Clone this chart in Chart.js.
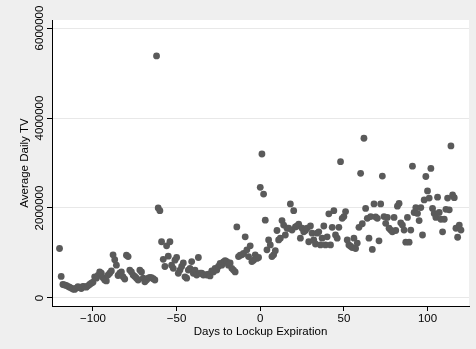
<!DOCTYPE html>
<html>
<head>
<meta charset="utf-8">
<title>Average Daily TV</title>
<script src="https://cdn.jsdelivr.net/npm/chart.js@4.4.1/dist/chart.umd.min.js"></script>
<style>
	html, body { margin: 0; padding: 0; background: #efefef; }
	#wrap { width: 476px; height: 349px; }
</style>
</head>
<body>
<div id="wrap"><canvas id="tvChart" width="476" height="349"></canvas></div>
<script>
// days relative to the lockup expiration date
var days = [
	-120, -119, -118, -117, -116, -115, -114, -113, -112, -111, -110, -109, -108, -107, -106, -105, -104, -103, -102, -101,
	-100, -99, -98, -97, -96, -95, -94, -93, -92, -91, -90, -89, -88, -87, -86, -85, -84, -83, -82, -81,
	-80, -79, -78, -77, -76, -75, -74, -73, -72, -71, -70, -69, -68, -67, -66, -65, -64, -63, -62, -61,
	-60, -59, -58, -57, -56, -55, -54, -53, -52, -51, -50, -49, -48, -47, -46, -45, -44, -43, -42, -41,
	-40, -39, -38, -37, -36, -35, -34, -33, -32, -31, -30, -29, -28, -27, -26, -25, -24, -23, -22, -21,
	-20, -19, -18, -17, -16, -15, -14, -13, -12, -11, -10, -9, -8, -7, -6, -5, -4, -3, -2, -1,
	0, 1, 2, 3, 4, 5, 6, 7, 8, 9, 10, 11, 12, 13, 14, 15, 16, 17, 18, 19,
	20, 21, 22, 23, 24, 25, 26, 27, 28, 29, 30, 31, 32, 33, 34, 35, 36, 37, 38, 39,
	40, 41, 42, 43, 44, 45, 46, 47, 48, 49, 50, 51, 52, 53, 54, 55, 56, 57, 58, 59,
	60, 61, 62, 63, 64, 65, 66, 67, 68, 69, 70, 71, 72, 73, 74, 75, 76, 77, 78, 79,
	80, 81, 82, 83, 84, 85, 86, 87, 88, 89, 90, 91, 92, 93, 94, 95, 96, 97, 98, 99,
	100, 101, 102, 103, 104, 105, 106, 107, 108, 109, 110, 111, 112, 113, 114, 115, 116, 117, 118, 119, 120
];

// average daily trading volume for each day
var avgTV = [
	1100000, 480000, 300000, 290000, 280000, 260000, 240000, 220000, 200000, 190000, 220000, 250000, 230000, 210000, 260000, 250000, 240000, 270000, 300000, 330000,
	350000, 470000, 440000, 500000, 580000, 550000, 450000, 400000, 380000, 510000, 550000, 600000, 960000, 850000, 730000, 500000, 550000, 580000, 470000, 420000,
	950000, 920000, 620000, 580000, 510000, 480000, 440000, 400000, 620000, 580000, 440000, 360000, 400000, 440000, 460000, 450000, 430000, 400000, 5380000, 2000000,
	1940000, 1250000, 860000, 700000, 1160000, 930000, 1250000, 730000, 660000, 840000, 900000, 550000, 620000, 700000, 780000, 470000, 440000, 620000, 660000, 810000,
	550000, 620000, 510000, 900000, 550000, 550000, 510000, 520000, 510000, 530000, 490000, 600000, 580000, 660000, 620000, 700000, 770000, 730000, 800000, 830000,
	810000, 730000, 780000, 660000, 620000, 580000, 1580000, 920000, 950000, 960000, 990000, 1360000, 1070000, 920000, 1160000, 810000, 840000, 960000, 880000, 900000,
	2460000, 3200000, 2310000, 1730000, 1070000, 1290000, 1180000, 920000, 960000, 1050000, 1500000, 1290000, 1330000, 1720000, 1620000, 1400000, 1550000, 1550000, 2090000, 1510000,
	1940000, 1580000, 1600000, 1640000, 1330000, 1550000, 1470000, 1500000, 1550000, 1250000, 1600000, 1440000, 1290000, 1200000, 1440000, 1470000, 1180000, 1330000, 1600000, 1180000,
	1360000, 1870000, 1180000, 1570000, 1940000, 1400000, 1330000, 1570000, 3030000, 1770000, 1810000, 1920000, 1290000, 1180000, 1150000, 1120000, 1330000, 1100000, 1220000, 1570000,
	2770000, 1650000, 3550000, 1990000, 1770000, 1330000, 1810000, 1080000, 2090000, 1800000, 1770000, 1270000, 2090000, 2710000, 1810000, 1660000, 1790000, 1550000, 1510000, 1470000,
	1790000, 1500000, 2040000, 2100000, 1670000, 1620000, 1510000, 1240000, 1790000, 1240000, 1510000, 2930000, 1900000, 2010000, 1880000, 1720000, 2010000, 1400000, 2180000, 2700000,
	2380000, 2220000, 2880000, 1990000, 1880000, 1790000, 2240000, 1900000, 1750000, 1470000, 1750000, 1970000, 2220000, 1960000, 3380000, 2290000, 2230000, 1550000, 1350000, 1620000, 1510000
];

var xTicks = [-100, -50, 0, 50, 100];
var yTicks = [0, 2000000, 4000000, 6000000];

var points = [];
for (var i = 0; i < days.length; i++) {
	points.push({x: days[i], y: avgTV[i]});
}

var labelFont = {family: "'Liberation Sans', Arial, sans-serif", size: 11.5};

// gray page, white plot region
var backgroundPlugin = {
	id: 'plotBackground',
	beforeDraw: function(chart) {
		var ctx = chart.ctx;
		var area = chart.chartArea;
		ctx.save();
		ctx.fillStyle = '#efefef';
		ctx.fillRect(0, 0, chart.width, chart.height);
		ctx.fillStyle = '#ffffff';
		ctx.fillRect(area.left, area.top, area.right - area.left, area.bottom - area.top);
		ctx.restore();
	}
};

var ctx = document.getElementById('tvChart').getContext('2d');
var tvChart = new Chart(ctx, {
	type: 'scatter',
	data: {
		datasets: [{
			label: 'Average Daily TV',
			data: points,
			backgroundColor: '#5a5a5a',
			borderWidth: 0,
			pointRadius: 3.4,
			pointHoverRadius: 3.4
		}]
	},
	options: {
		responsive: false,
		animation: false,
		devicePixelRatio: 1,
		layout: {
			padding: {top: 20, right: 7, bottom: 0, left: 0}
		},
		plugins: {
			legend: {display: false},
			tooltip: {enabled: false}
		},
		scales: {
			x: {
				type: 'linear',
				min: -124.5,
				max: 124.8,
				afterBuildTicks: function(scale) {
					scale.ticks = xTicks.map(function(v) { return {value: v}; });
				},
				afterFit: function(scale) {
					scale.height = 43;
				},
				border: {color: '#000', width: 1},
				grid: {drawOnChartArea: false, tickLength: 5, tickColor: '#000'},
				ticks: {
					color: '#000',
					font: labelFont,
					padding: 1,
					maxRotation: 0,
					autoSkip: false,
					callback: function(v) {
						return v < 0 ? '\u2212' + Math.abs(v) : '' + v;
					}
				},
				title: {
					display: true,
					text: 'Days to Lockup Expiration',
					color: '#000',
					font: labelFont,
					padding: {top: 0, bottom: 10}
				}
			},
			y: {
				type: 'linear',
				min: -178000,
				max: 6178000,
				afterBuildTicks: function(scale) {
					scale.ticks = yTicks.map(function(v) { return {value: v}; });
				},
				afterFit: function(scale) {
					scale.width = 52;
				},
				border: {color: '#000', width: 1},
				grid: {color: '#e8e8e8', lineWidth: 1, tickLength: 5, tickColor: '#000'},
				ticks: {
					color: '#000',
					font: labelFont,
					minRotation: 90,
					maxRotation: 90,
					crossAlign: 'center',
					padding: -15,
					autoSkip: false,
					callback: function(v) { return '' + v; }
				},
				title: {
					display: true,
					text: 'Average Daily TV',
					color: '#000',
					font: labelFont,
					padding: {top: 18, bottom: 0}
				}
			}
		}
	},
	plugins: [backgroundPlugin]
});
</script>
</body>
</html>
